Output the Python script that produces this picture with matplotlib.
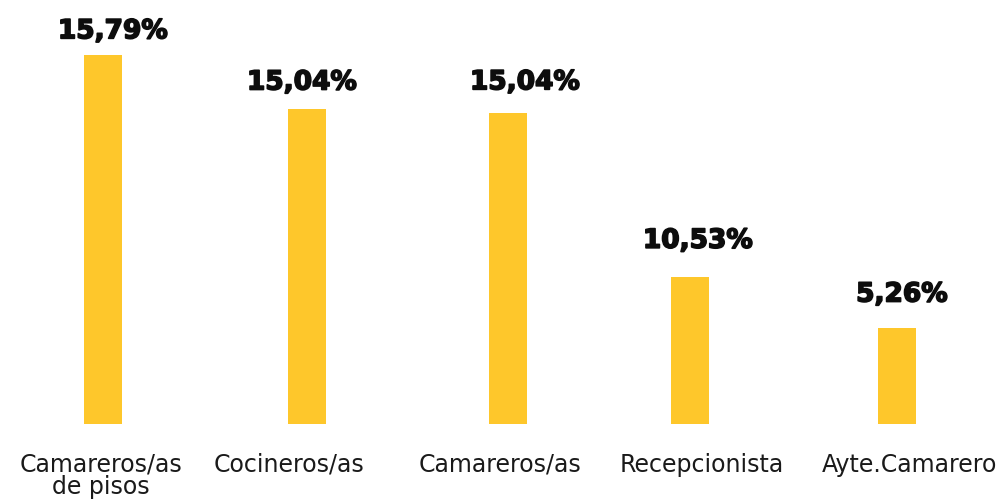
import matplotlib.pyplot as plt
import matplotlib.patheffects as pe
import numpy as np

# data
categories = ['Camareros/as\nde pisos', 'Cocineros/as', 'Camareros/as',
              'Recepcionista', 'Ayte.Camarero']
value_labels = ['15,79%', '15,04%', '15,04%', '10,53%', '5,26%']
# bar heights as drawn in the original (not proportional to the labels)
bar_heights = [15.79, 13.48, 13.31, 6.29, 4.11]

# layout (pixel-ish x positions, the original spacing is uneven)
x_pos = np.array([103, 307, 508, 690, 897])
value_dx = np.array([10, -5, 17, 8, 5])
value_dy = np.array([12, 14, 17, 21, 19])
cat_dx = np.array([-2, -18, -8, 12, 13])

bar_color = '#FEC72B'

fig = plt.figure(figsize=(10.03, 5.02), dpi=100)
ax = fig.add_axes([0, 77 / 502, 1, 425 / 502])
ax.set_xlim(0, 1003)
ax.set_ylim(0, 425 / (369 / 15.79))
ax.axis('off')

bars = ax.bar(x_pos, bar_heights, width=38, color=bar_color)

for b, txt, dx, dy in zip(bars, value_labels, value_dx, value_dy):
    ax.annotate(txt, (b.get_x() + b.get_width() / 2 + dx, b.get_height()),
                xytext=(0, dy), textcoords='offset points',
                ha='center', va='baseline', fontsize=19,
                family='DejaVu Sans', fontweight='bold', color='#0d0d0d',
                path_effects=[pe.withStroke(linewidth=1.2, foreground='#0d0d0d')])

for x, dx, cat in zip(x_pos, cat_dx, categories):
    ax.annotate(cat, (x + dx, 0), xytext=(0, -20), textcoords='offset points',
                ha='center', va='top', fontsize=17, linespacing=0.9,
                family='DejaVu Sans', color='#1a1a1a', annotation_clip=False)

fig.savefig('out.png', dpi=100)
